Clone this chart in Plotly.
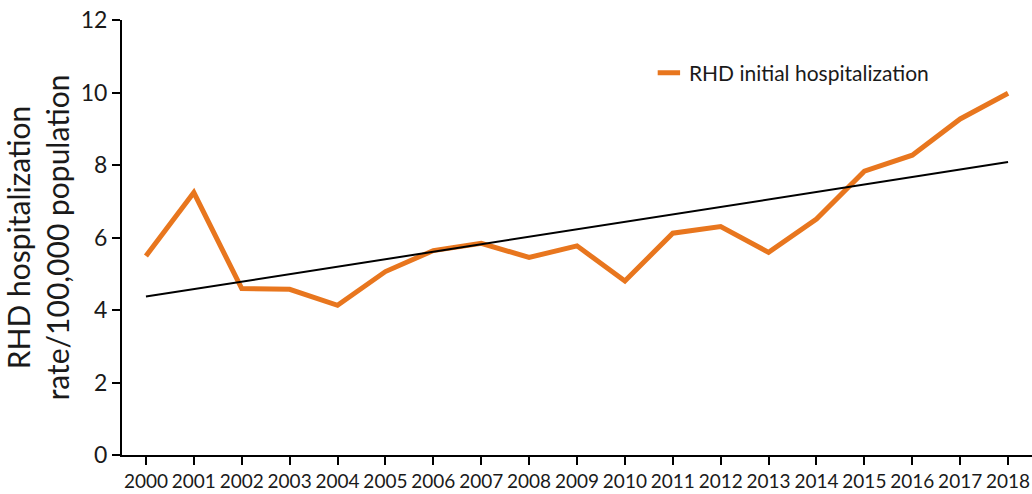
import plotly.graph_objects as go

years = list(range(2000, 2019))
rhd_rate = [5.49, 7.24, 4.59, 4.57, 4.13, 5.06, 5.64, 5.84, 5.45, 5.77,
            4.80, 6.12, 6.30, 5.59, 6.51, 7.83, 8.27, 9.27, 9.98]
trend_years = [2000, 2018]
trend_values = [4.37, 8.08]

series_name = "RHD initial hospitalization"
y_title = "RHD hospitalization<br>rate/100,000 population"
orange = "#E8761E"
ink = "#1a1a1a"
font_family = "Lato, 'Open Sans', sans-serif"

fig = go.Figure()
fig.add_trace(go.Scatter(
    x=years, y=rhd_rate, mode="lines",
    line=dict(color=orange, width=5),
    showlegend=False, hoverinfo="x+y"))
fig.add_trace(go.Scatter(
    x=trend_years, y=trend_values, mode="lines",
    line=dict(color="black", width=2),
    showlegend=False, hoverinfo="skip"))
fig.add_trace(go.Scatter(
    x=[None], y=[None], mode="markers", name=series_name,
    marker=dict(symbol="line-ew-open", size=16, color=orange,
                line=dict(color=orange, width=5)),
    showlegend=True))

fig.update_layout(
    width=1032, height=494,
    margin=dict(l=122, r=0, t=20, b=39),
    paper_bgcolor="white", plot_bgcolor="white",
    font=dict(family=font_family, color=ink),
    legend=dict(x=0.579, y=0.878, xanchor="left", yanchor="middle",
                bgcolor="rgba(0,0,0,0)", font=dict(size=21, color=ink),
                itemwidth=30),
    xaxis=dict(
        range=[1999.5, 2018.5], tickmode="array", tickvals=years,
        ticktext=[str(y) for y in years],
        showline=True, linecolor="black", linewidth=2,
        ticks="outside", ticklen=8, tickwidth=2, tickcolor="black",
        showgrid=False, zeroline=False,
        tickfont=dict(size=19, color=ink)),
    yaxis=dict(
        range=[0, 12], tickmode="array", tickvals=[0, 2, 4, 6, 8, 10, 12],
        showline=True, linecolor="black", linewidth=2,
        ticks="outside", ticklen=8, tickwidth=2, tickcolor="black",
        showgrid=False, zeroline=False,
        tickfont=dict(size=23, color=ink),
        title=dict(text=y_title, font=dict(size=30, color=ink), standoff=12)),
)

fig.write_html("out.html",
               config={"displayModeBar": False},
               post_script="document.body.style.margin='0';document.body.style.overflow='hidden';")
